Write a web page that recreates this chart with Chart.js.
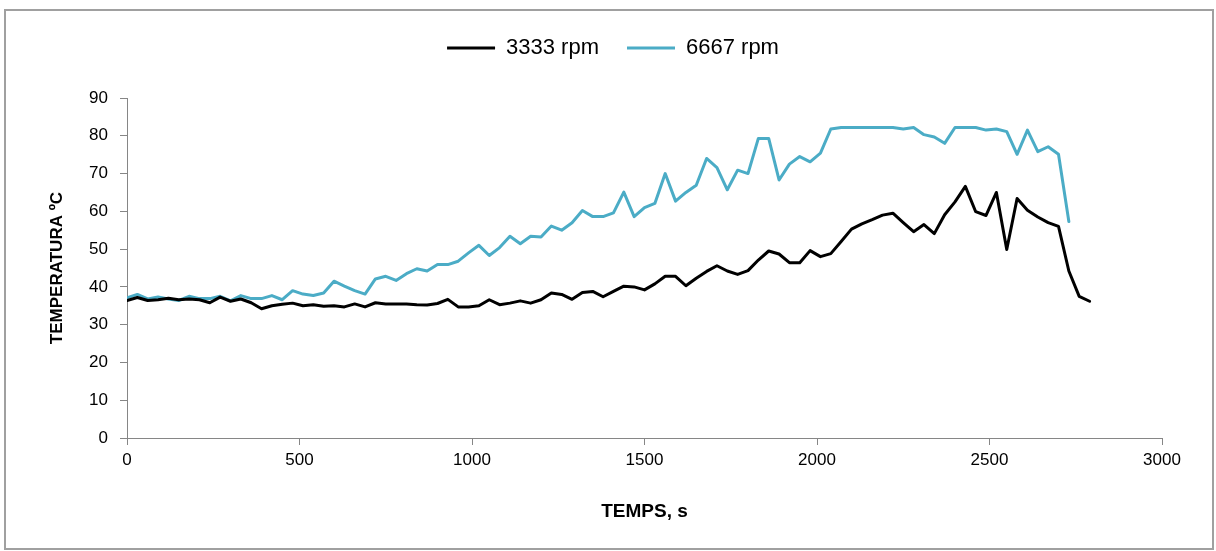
<!DOCTYPE html>
<html>
<head>
<meta charset="utf-8">
<script src="https://cdn.jsdelivr.net/npm/chart.js@4/dist/chart.umd.min.js"></script>
<style>
  html, body { margin: 0; padding: 0; background: #fff; }
  #frame { position: absolute; left: 4px; top: 9px; width: 1206px; height: 537px; border: 2px solid #a0a0a0; }
  #chart { position: absolute; left: 0; top: 0; }
</style>
</head>
<body>
<div id="frame"></div>
<canvas id="chart" width="1216" height="551"></canvas>
<script>
// ------ Data ------

const seriesNames = ['3333 rpm', '6667 rpm'];

// time, s (one reading every 30 s)
const times = [
  0, 30, 60, 90, 120, 150, 180, 210, 240, 270,
  300, 330, 360, 390, 420, 450, 480, 510, 540, 570,
  600, 630, 660, 690, 720, 750, 780, 810, 840, 870,
  900, 930, 960, 990, 1020, 1050, 1080, 1110, 1140, 1170,
  1200, 1230, 1260, 1290, 1320, 1350, 1380, 1410, 1440, 1470,
  1500, 1530, 1560, 1590, 1620, 1650, 1680, 1710, 1740, 1770,
  1800, 1830, 1860, 1890, 1920, 1950, 1980, 2010, 2040, 2070,
  2100, 2130, 2160, 2190, 2220, 2250, 2280, 2310, 2340, 2370,
  2400, 2430, 2460, 2490, 2520, 2550, 2580, 2610, 2640, 2670,
  2700, 2730, 2760, 2790
];

// temperature ºC at 3333 rpm
const temp3333 = [
  36.4, 37.2, 36.4, 36.6, 37.0, 36.6, 36.8, 36.6, 35.8, 37.3,
  36.2, 36.8, 35.8, 34.2, 35.0, 35.4, 35.7, 35.0, 35.3, 34.9,
  35.0, 34.7, 35.5, 34.7, 35.8, 35.5, 35.5, 35.5, 35.3, 35.2,
  35.6, 36.7, 34.7, 34.7, 35.0, 36.6, 35.3, 35.7, 36.3, 35.7,
  36.6, 38.4, 38.0, 36.7, 38.5, 38.8, 37.4, 38.8, 40.2, 40.0,
  39.2, 40.8, 42.8, 42.8, 40.3, 42.3, 44.1, 45.6, 44.2, 43.3,
  44.3, 47.1, 49.5, 48.7, 46.4, 46.4, 49.6, 48.0, 48.8, 52.0,
  55.3, 56.7, 57.8, 59.0, 59.5, 57.0, 54.6, 56.5, 54.1, 59.1,
  62.5, 66.6, 59.9, 58.9, 65.0, 49.9, 63.4, 60.3, 58.5, 57.0,
  56.0, 44.2, 37.5, 36.2
];

// temperature ºC at 6667 rpm (stops at 2730 s)
const temp6667 = [
  37.1, 38.0, 36.8, 37.3, 36.8, 36.4, 37.5, 36.9, 36.9, 37.5,
  36.3, 37.7, 36.9, 36.9, 37.7, 36.6, 39.0, 38.1, 37.7, 38.4,
  41.5, 40.2, 39.0, 38.1, 42.1, 42.8, 41.7, 43.5, 44.8, 44.2,
  45.9, 45.9, 46.8, 49.0, 51.0, 48.3, 50.4, 53.4, 51.4, 53.4,
  53.2, 56.1, 55.0, 57.0, 60.2, 58.6, 58.6, 59.6, 65.1, 58.6,
  61.0, 62.1, 70.0, 62.7, 65.0, 66.9, 74.0, 71.6, 65.7, 70.9,
  70.0, 79.3, 79.3, 68.3, 72.5, 74.5, 73.1, 75.4, 81.8, 82.2,
  82.2, 82.2, 82.2, 82.2, 82.2, 81.8, 82.2, 80.3, 79.7, 78.0,
  82.2, 82.2, 82.2, 81.5, 81.8, 81.1, 75.1, 81.5, 75.8, 77.1,
  75.1, 57.3
];

const xTicks = { min: 0, max: 3000, step: 500 };
const yTicks = { min: 0, max: 90, step: 10 };

// ------ Chart ------

const FONT = "'Liberation Sans', Arial, sans-serif";
const AXIS_GREY = '#868686';

const toPoints = (vals) => vals.map((v, i) => ({ x: times[i], y: v }));

// legend sits centred on the whole frame, plot area starts lower
const legendGap = {
  id: 'legendGap',
  beforeInit(chart) {
    const fit = chart.legend.fit;
    chart.legend.fit = function () {
      fit.bind(chart.legend)();
      this.height += 29;
    };
  },
  afterLayout(chart) {
    chart.legend.left += 32;
    chart.legend.right += 32;
  }
};

new Chart(document.getElementById('chart'), {
  type: 'line',
  data: {
    datasets: [
      { label: seriesNames[0], data: toPoints(temp3333),
        borderColor: '#000000', backgroundColor: '#000000', borderWidth: 3 },
      { label: seriesNames[1], data: toPoints(temp6667),
        borderColor: '#4bacc6', backgroundColor: '#4bacc6', borderWidth: 3 }
    ]
  },
  options: {
    responsive: false,
    devicePixelRatio: 1,
    animation: false,
    elements: {
      point: { radius: 0, hoverRadius: 0 },
      line: { tension: 0, borderJoinStyle: 'round', borderCapStyle: 'round', fill: false }
    },
    layout: { padding: { top: 9, right: 54, bottom: 0, left: 0 } },
    plugins: {
      tooltip: { enabled: false },
      legend: {
        position: 'top',
        labels: {
          usePointStyle: true, pointStyle: 'line', pointStyleWidth: 48,
          color: '#000', padding: 28,
          font: { family: FONT, size: 22 }
        }
      }
    },
    scales: {
      x: {
        type: 'linear', min: xTicks.min, max: xTicks.max,
        afterFit(scale) { scale.height = 113; },
        ticks: { stepSize: xTicks.step, color: '#000', padding: 5, maxRotation: 0,
                 callback: v => String(v),
                 font: { family: FONT, size: 17 } },
        grid: { drawOnChartArea: false, drawTicks: true, tickLength: 7, color: AXIS_GREY },
        border: { display: true, color: AXIS_GREY, width: 1 },
        title: { display: true, text: 'TEMPS, s', color: '#000',
                 font: { family: FONT, size: 19, weight: 'bold' }, padding: { top: 0, bottom: 28 } }
      },
      y: {
        type: 'linear', min: yTicks.min, max: yTicks.max,
        afterFit(scale) { scale.width = 127; },
        ticks: { stepSize: yTicks.step, color: '#000', padding: 12,
                 callback: v => String(v),
                 font: { family: FONT, size: 17 } },
        grid: { drawOnChartArea: false, drawTicks: true, tickLength: 7, color: AXIS_GREY },
        border: { display: true, color: AXIS_GREY, width: 1 },
        title: { display: true, text: 'TEMPERATURA ºC', color: '#000',
                 font: { family: FONT, size: 17, weight: 'bold' }, padding: { top: 47, bottom: 0 } }
      }
    }
  },
  plugins: [legendGap]
});
</script>
</body>
</html>
